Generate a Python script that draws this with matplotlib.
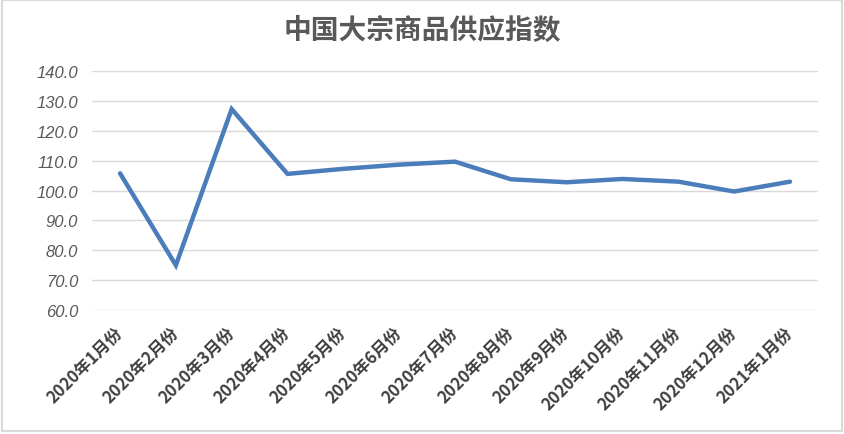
import matplotlib
matplotlib.use("Agg")
import matplotlib.pyplot as plt
from matplotlib.patches import Rectangle

plt.rcParams['font.family'] = ['Noto Sans CJK SC', 'DejaVu Sans']

title = "中国大宗商品供应指数"
categories = ["2020年1月份", "2020年2月份", "2020年3月份", "2020年4月份", "2020年5月份",
              "2020年6月份", "2020年7月份", "2020年8月份", "2020年9月份", "2020年10月份",
              "2020年11月份", "2020年12月份", "2021年1月份"]
values = [105.8, 75.0, 127.3, 105.6, 107.3, 108.7, 109.7, 103.8, 102.8, 103.9, 103.0, 99.7, 103.0]
yticks = [60, 70, 80, 90, 100, 110, 120, 130, 140]

fig = plt.figure(figsize=(8.45, 4.35), dpi=100)
fig.patch.set_facecolor("white")
fig.add_artist(Rectangle((0.002, 0.008), 0.994, 0.99, transform=fig.transFigure,
                         fill=False, edgecolor="#d9d9d9", linewidth=1.5))

ax = fig.add_axes([0.109, 0.285, 0.859, 0.549])
x = list(range(len(categories)))
ax.plot(x, values, color="#4A7DBA", linewidth=3.2, solid_joinstyle="miter",
        solid_capstyle="round", zorder=3)

ax.set_xlim(-0.5, len(categories) - 0.5)
ax.set_ylim(60, 140)
ax.set_yticks(yticks)
ax.set_yticklabels([f"{v:.1f}" for v in yticks], fontfamily="Liberation Sans",
                   fontstyle="italic", fontsize=12, color="#595959")
ax.set_xticks(x)
ax.set_xticklabels(categories, rotation=45, ha="right", va="center",
                   rotation_mode="anchor", fontsize=12, fontweight="bold", color="#404040")
ax.tick_params(axis="both", length=0)
ax.tick_params(axis="y", pad=10)
ax.tick_params(axis="x", pad=14)
for s in ax.spines.values():
    s.set_visible(False)
ax.grid(axis="y", color="#d9d9d9", linewidth=1)
ax.set_axisbelow(True)

fig.text(0.5, 0.93, title, ha="center", va="center", fontsize=20, fontweight="bold",
         color="#595959")

fig.savefig("out.png", dpi=100)
